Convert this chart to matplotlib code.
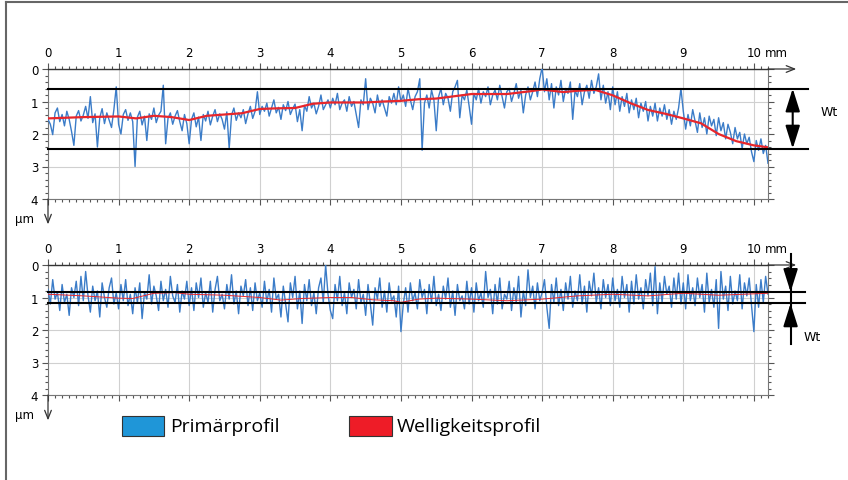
# -*- coding: utf-8 -*-
"""
Primaerprofil / Welligkeitsprofil - Wt Darstellung
"""
import numpy as np
import matplotlib
matplotlib.use('Agg')
import matplotlib.pyplot as plt
from matplotlib.patches import Rectangle
from matplotlib.lines import Line2D

# ---------------- datos ----------------
paso = 1.0 / 30  # mm entre puntos del perfil

# perfil primario, panel superior (um, hacia abajo)
prim_sup = [
    1.55, 1.70, 2.02, 1.35, 1.20, 1.62, 1.40, 1.75, 1.30, 1.55, 1.92, 2.35, 1.45, 1.28, 1.60,
    1.42, 1.15, 1.52, 0.85, 1.65, 1.38, 2.40, 1.50, 1.22, 1.68, 1.35, 1.58, 1.80, 1.25, 0.55,
    1.70, 2.00, 1.40, 1.25, 1.58, 1.35, 1.62, 3.00, 1.48, 1.30, 1.72, 1.45, 2.20, 1.38, 1.55,
    1.20, 1.65, 1.42, 1.30, 0.50, 2.30, 1.52, 1.35, 1.70, 1.45, 1.28, 1.62, 1.90, 1.40, 1.68,
    2.30, 1.55, 1.35, 1.78, 1.48, 2.20, 1.40, 1.60, 1.30, 1.72, 1.45, 1.25, 1.62, 1.38, 1.55,
    1.85, 1.32, 2.45, 1.42, 1.20, 1.58, 1.35, 1.50, 1.25, 1.68, 1.38, 1.15, 1.52, 1.30, 0.70,
    1.40, 1.15, 1.30, 1.05, 1.45, 1.20, 0.95, 1.35, 1.18, 1.55, 1.10, 1.28, 1.00, 1.40, 1.22,
    1.08, 1.62, 1.25, 1.90, 1.12, 1.30, 0.85, 1.20, 1.05, 1.38, 1.15, 0.80, 1.25, 1.10, 0.95,
    1.20, 0.90, 1.10, 0.75, 1.25, 1.05, 0.95, 1.30, 0.85, 1.15, 1.00, 1.40, 1.80, 0.95, 1.10,
    0.30, 1.25, 0.90, 1.05, 1.35, 0.80, 1.15, 0.95, 1.20, 1.45, 0.85, 1.05, 0.75, 1.10, 0.55,
    1.00, 0.80, 1.15, 0.60, 0.95, 1.25, 0.85, 0.70, 0.30, 2.50, 1.05, 0.80, 1.20, 0.65, 0.95,
    1.90, 0.85, 0.60, 1.10, 0.75, 0.90, 1.30, 0.70, 0.55, 0.35, 1.50, 0.80, 0.95, 0.65, 1.15,
    1.70, 0.75, 0.95, 0.60, 1.05, 0.70, 0.85, 0.55, 1.10, 0.80, 0.65, 0.95, 0.50, 0.85, 1.20,
    0.70, 0.60, 1.00, 0.75, 0.45, 0.90, 0.65, 1.35, 0.80, 0.55, 0.95, 0.70, 0.40, 0.85, 0.30,
    -0.05, 0.70, 0.30, 0.95, 0.45, 1.20, 0.55, 0.80, 0.35, 1.00, 0.60, 0.75, 0.40, 1.55, 0.65,
    0.85, 0.45, 1.10, 0.70, 0.50, 0.90, 0.35, 0.75, 0.55, 0.15, 0.95, 0.50, 1.05, 0.70, 1.25,
    0.55, 1.10, 0.70, 1.30, 0.85, 1.15, 0.75, 1.35, 0.95, 1.25, 0.90, 1.50, 1.05, 1.30, 1.00,
    1.60, 1.15, 1.45, 1.05, 1.60, 1.20, 1.45, 1.10, 1.55, 1.25, 1.70, 1.30, 1.55, 1.20, 0.60,
    1.30, 1.85, 1.40, 1.75, 1.25, 1.60, 1.95, 1.35, 1.80, 1.50, 2.00, 1.45, 1.75, 1.55, 2.05,
    1.50, 1.90, 1.65, 2.15, 1.70, 1.95, 2.30, 1.80, 2.15, 1.95, 2.45, 2.00, 2.30, 2.10, 2.55,
    2.85, 2.20, 2.50, 2.15, 2.60, 2.35, 2.90,
]

# perfil primario, panel inferior
prim_inf = [
    0.75, 1.20, 0.45, 1.05, 0.85, 1.40, 0.60, 1.15, 0.90, 1.55, 0.70, 1.00, 0.50, 1.25, 0.35,
    1.10, 0.20, 0.95, 1.45, 0.65, 1.10, 0.80, 1.60, 0.55, 1.00, 1.30, 0.70, 0.40, 1.20, 0.85,
    1.35, 0.60, 1.10, 0.45, 1.25, 0.90, 1.50, 0.70, 1.15, 0.55, 1.65, 0.85, 1.05, 0.30, 1.20,
    0.65, 0.95, 1.40, 0.50, 1.10, 0.75, 1.30, 0.35, 0.95, 1.15, 0.60, 1.45, 0.80, 1.05, 0.50,
    1.25, 0.70, 1.40, 0.55, 1.00, 0.40, 1.30, 0.85, 1.15, 0.50, 1.45, 0.75, 0.35, 1.10, 0.90,
    1.35, 0.60, 1.05, 0.30, 1.20, 0.80, 1.50, 0.65, 0.95, 0.45, 1.25, 0.70, 1.40, 0.55, 1.10,
    0.85, 1.30, 0.50, 1.15, 0.75, 1.45, 0.40, 1.05, 0.90, 1.60, 0.65, 1.20, 1.75, 0.55, 1.00,
    0.35, 1.35, 0.80, 1.80, 0.60, 1.10, 0.45, 1.25, 0.85, 1.50, 0.70, 0.40, 1.15, 0.00, 0.90,
    1.40, 1.65, 0.60, 1.10, 0.35, 1.25, 0.85, 1.50, 0.55, 1.00, 0.75, 1.35, 0.45, 1.15, 0.90,
    1.55, 0.60, 1.20, 1.85, 0.70, 1.05, 0.40, 1.30, 0.80, 1.45, 0.55, 1.10, 0.95, 1.60, 0.65,
    2.05, 1.20, 0.70, 1.45, 0.55, 1.10, 0.85, 1.35, 0.45, 1.00, 0.75, 1.50, 0.60, 1.15, 0.35,
    1.25, 0.90, 1.40, 0.65, 1.05, 0.40, 1.30, 0.80, 1.55, 0.60, 1.10, 0.95, 1.35, 0.50, 1.20,
    0.70, 1.45, 0.55, 1.10, 0.85, 1.30, 0.20, 1.00, 0.75, 1.50, 0.60, 1.20, 0.40, 1.35, 0.90,
    1.05, 0.50, 1.40, 0.70, 1.15, 0.35, 1.60, 0.80, 1.25, 0.15, 1.00, 0.65, 1.35, 0.55, 1.10,
    0.85, 0.45, 1.30, 1.95, 0.60, 1.15, 0.40, 1.25, 0.75, 1.40, 0.55, 1.05, 0.35, 1.30, 0.80,
    1.10, 0.30, 1.20, 0.65, 1.45, 0.50, 0.95, 0.25, 1.15, 0.70, 1.35, 0.45, 1.00, 0.60, 1.25,
    0.40, 1.10, 0.75, 1.30, 0.35, 1.00, 0.60, 1.45, 0.50, 1.20, 0.30, 1.05, 0.70, 1.35, 0.45,
    0.95, 0.25, 1.25, 0.05, 1.50, 0.55, 1.15, 0.35, 0.90, 0.65, 1.30, 0.40, 1.05, 0.25, 1.20,
    0.55, 1.35, 0.30, 1.10, 0.70, 1.25, 0.40, 1.00, 0.60, 1.45, 0.25, 1.15, 0.75, 1.30, 0.45,
    1.95, 0.20, 1.05, 0.65, 1.40, 0.35, 1.20, 0.80, 1.10, 0.30, 1.35, 0.55, 0.95, 0.40, 1.25,
    2.05, 0.60, 1.30, 0.45, 1.15, 0.35, 0.90,
]

# perfil de ondulacion (Welligkeit)
well_x_sup = [0.0, 0.5, 1.0, 1.25, 1.5, 1.75, 2.0, 2.25, 2.5, 2.75, 3.0, 3.25, 3.5, 3.75,
              4.0, 4.25, 4.5, 4.75, 5.0, 5.25, 5.5, 6.0, 6.5, 6.85, 7.0, 7.3, 7.5, 7.75,
              8.0, 8.25, 8.5, 8.75, 9.0, 9.25, 9.5, 9.75, 10.0, 10.2]
well_y_sup = [1.52, 1.48, 1.46, 1.52, 1.44, 1.48, 1.57, 1.44, 1.40, 1.36, 1.23, 1.21, 1.20, 1.07,
              1.03, 1.03, 1.03, 1.00, 0.98, 0.93, 0.91, 0.77, 0.77, 0.68, 0.63, 0.71, 0.67, 0.64,
              0.81, 1.05, 1.26, 1.38, 1.52, 1.67, 2.00, 2.22, 2.35, 2.41]

well_x_inf = [0.0, 0.5, 1.0, 1.2, 1.5, 1.8, 2.0, 2.5, 3.0, 3.3, 3.6, 4.0, 4.3, 4.6, 4.9,
              5.0, 5.25, 5.5, 6.0, 6.5, 7.0, 7.5, 8.0, 8.5, 9.0, 9.5, 10.2]
well_y_inf = [0.90, 0.95, 1.02, 1.03, 0.87, 0.85, 0.90, 0.93, 1.00, 1.08, 1.03, 1.00, 1.00, 1.07, 1.10,
              1.15, 1.05, 1.02, 1.05, 1.10, 1.05, 0.95, 0.90, 0.95, 0.87, 0.93, 0.87]

# lineas de Wt (um)
wt_sup = [0.60, 2.45]
wt_inf = [0.83, 1.18]

xticks = list(range(0, 11))
yticks = [0, 1, 2, 3, 4]
leyenda = ['Primärprofil', 'Welligkeitsprofil']
# Fin

azul = '#3b7cc8'
rojo = '#e8262b'

fig = plt.figure(figsize=(8.48, 4.81), dpi=100)

# marco de la imagen (solo izquierda y arriba)
fig.add_artist(Line2D([6 / 848, 6 / 848], [0, 1 - 3 / 481], color='#666666', lw=1.5))
fig.add_artist(Line2D([6 / 848, 1], [1 - 3 / 481, 1 - 3 / 481], color='#666666', lw=1.5))

ax1 = fig.add_axes([48 / 848, 1 - 200 / 481, 720 / 848, 130 / 481])
ax2 = fig.add_axes([48 / 848, 1 - 396 / 481, 720 / 848, 130 / 481])


def preparar(ax, prim, wx, wy, lw_rojo):
    x = np.arange(len(prim)) * paso
    ax.plot(x, prim, color=azul, lw=1.0, zorder=3)
    ax.plot(wx, wy, color=rojo, lw=lw_rojo, zorder=4)
    ax.set_xlim(0, 10.2)
    ax.set_ylim(4, 0)
    ax.set_xticks(xticks)
    ax.set_xticks(np.arange(0, 10.21, 0.1), minor=True)
    ax.set_yticks(yticks)
    ax.set_yticks(np.arange(0, 4.01, 0.2), minor=True)
    ax.set_xticklabels([str(t) for t in xticks])
    ax.tick_params(axis='both', which='both', direction='out', top=True, bottom=True,
                   left=True, right=True, labeltop=True, labelbottom=False,
                   labelright=False, labelsize=8.5, color='#555555', width=0.8)
    ax.tick_params(which='major', length=4, pad=3)
    ax.tick_params(which='minor', length=2.5)
    ax.grid(True, which='major', color='#d0d0d0', lw=0.8, zorder=0)
    for s in ['left', 'bottom', 'right']:
        ax.spines[s].set_color('#777777')
        ax.spines[s].set_linewidth(0.8)
    ax.spines['top'].set_color('#333333')
    ax.spines['top'].set_linewidth(1.0)
    ax.text(10.16, -0.5, 'mm', fontsize=8.5, va='center', ha='left')
    ax.text(-0.2, 4.6, 'µm', fontsize=8.5, va='center', ha='right')
    # flechas de los ejes
    ax.annotate('', xy=(10.6, 0), xytext=(10.2, 0), annotation_clip=False,
                arrowprops=dict(arrowstyle='->,head_length=0.5,head_width=0.2', lw=0.9,
                                color='#333333', shrinkA=0, shrinkB=0, mutation_scale=12))
    ax.annotate('', xy=(0, 4.78), xytext=(0, 4.0), annotation_clip=False,
                arrowprops=dict(arrowstyle='->,head_length=0.5,head_width=0.2', lw=0.9,
                                color='#333333', shrinkA=0, shrinkB=0, mutation_scale=12))


preparar(ax1, prim_sup, well_x_sup, well_y_sup, 1.6)
preparar(ax2, prim_inf, well_x_inf, well_y_inf, 0.7)

# lineas Wt panel superior
for v in wt_sup:
    ax1.plot([0, 10.76], [v, v], color='black', lw=1.5, clip_on=False, zorder=5)
ax1.annotate('', xy=(10.55, wt_sup[0]), xytext=(10.55, wt_sup[1]), annotation_clip=False,
             arrowprops=dict(arrowstyle='<|-|>,head_length=0.7,head_width=0.22', lw=1.5,
                             color='black', shrinkA=0, shrinkB=0, mutation_scale=20))
ax1.text(10.95, 1.3, 'Wt', fontsize=9, va='center', ha='left')

# lineas Wt panel inferior
for v in wt_inf:
    ax2.plot([0, 10.72], [v, v], color='black', lw=1.5, clip_on=False, zorder=5)
ax2.plot([10.52, 10.52], [-0.34, 2.43], color='black', lw=1.5, clip_on=False, zorder=5)
ax2.annotate('', xy=(10.52, wt_inf[0]), xytext=(10.52, 0.2), annotation_clip=False,
             arrowprops=dict(arrowstyle='-|>,head_length=0.7,head_width=0.22', lw=1.5,
                             color='black', shrinkA=0, shrinkB=0, mutation_scale=20))
ax2.annotate('', xy=(10.52, wt_inf[1]), xytext=(10.52, 1.8), annotation_clip=False,
             arrowprops=dict(arrowstyle='-|>,head_length=0.7,head_width=0.22', lw=1.5,
                             color='black', shrinkA=0, shrinkB=0, mutation_scale=20))
ax2.text(10.7, 2.2, 'Wt', fontsize=9, va='center', ha='left')

# leyenda
fig.add_artist(Rectangle((122 / 848, 1 - 437 / 481), 42 / 848, 20 / 481,
                         facecolor='#1f96d8', edgecolor='#333333', lw=0.8))
fig.text(170 / 848, 1 - 427 / 481, leyenda[0], fontsize=14, va='center', ha='left',
         family='Open Sans')
fig.add_artist(Rectangle((349 / 848, 1 - 437 / 481), 43 / 848, 20 / 481,
                         facecolor='#ee1c27', edgecolor='#333333', lw=0.8))
fig.text(397 / 848, 1 - 427 / 481, leyenda[1], fontsize=14, va='center', ha='left',
         family='Open Sans')

fig.savefig('out.png', dpi=100)
